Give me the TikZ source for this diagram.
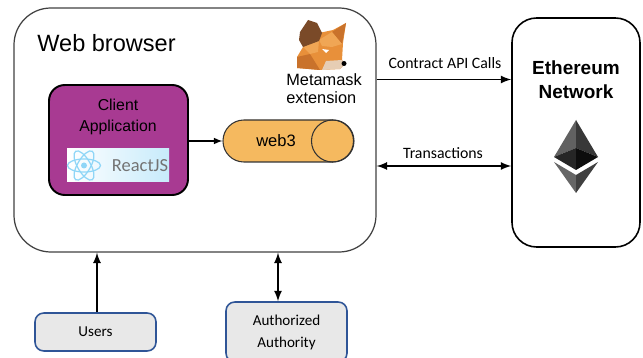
\documentclass[tikz,border=0pt]{standalone}
\usepackage{fontspec}
\setmainfont{Liberation Sans}
\newfontfamily\labelfont{Carlito}
\usetikzlibrary{positioning}
\definecolor{clientpurple}{HTML}{A83A92}
\definecolor{webthreeorange}{HTML}{F5B95F}
\definecolor{boxgrey}{HTML}{E8E8E8}
\definecolor{boxblue}{HTML}{2F5597}
\definecolor{reactblue}{HTML}{8FD6F7}
\definecolor{foxmain}{HTML}{E8903A}
\definecolor{foxdark}{HTML}{C9722B}
\definecolor{foxlight}{HTML}{F0A655}
\definecolor{foxear}{HTML}{7A4A28}
\definecolor{foxsnout}{HTML}{E6CDB4}
\tikzset{
  panel/.style = {draw, rectangle, minimum width = #1*.02cm, inner sep = 0pt},
  smallbox/.style = {draw = boxblue, line width = .9pt, fill = boxgrey, rectangle, rounded corners = 5pt,
    inner sep = 0pt, minimum width = 121*.02cm, font = \labelfont\fontsize{8.6}{12.5}\selectfont, align = center},
  linktext/.style = {font = \labelfont\fontsize{9}{11}\selectfont, inner sep = 0pt},
  link/.style = {line width = 1.05pt, -latex},
  twolink/.style = {line width = 1.05pt, latex-latex}
}
\begin{document}
\begin{tikzpicture}[x = .02cm, y = -.02cm]
\useasboundingbox (0,0) rectangle (643,358);
\clip (0,0) rectangle (643,358);
% containers
\node[panel = 362, draw = black!75, line width = .7pt, minimum height = 244*.02cm, rounded corners = 21pt] (browser) at (195,130) {};
\node[panel = 128, line width = .9pt, minimum height = 229*.02cm, rounded corners = 14pt] (ether) at (576,132.5) {};
\node[panel = 139, line width = 1.1pt, fill = clientpurple, minimum height = 110*.02cm, rounded corners = 9pt] (client) at (118.5,140) {};
\node[panel = 131, draw = black!80, line width = .6pt, fill = webthreeorange, minimum height = 42*.02cm, rounded corners = 11.9pt] (webthree) at (288.5,141) {};
\node[draw = black!80, line width = .6pt, circle, inner sep = 0pt, minimum size = 42*.02cm] (webthreeend) at (332.5,141) {};
\node[smallbox, minimum height = 38*.02cm] (users) at (95.5,332) {Users};
\node[smallbox, minimum height = 60*.02cm] (auth) at (286.5,332) {Authorized\\Authority};
% texts
\node[font = \fontsize{13.4}{15}\selectfont, inner sep = 0pt] (browsertxt) at (106.5,43) {Web browser};
\node[font = \fontsize{9}{12}\selectfont, align = center, inner sep = 0pt] (clienttxt) at (118,117) {Client\\Application};
\node[font = \fontsize{9.4}{11}\selectfont, inner sep = 0pt] (webthreetxt) at (276,141) {web3};
\node[font = \fontsize{9.3}{10.2}\selectfont, align = left, inner sep = 0pt] (metatxt) at (324,89) {Metamask\\extension};
\node[font = \bfseries\fontsize{10.8}{13.5}\selectfont, align = center, inner sep = 0pt] (ethertxt) at (576,80) {Ethereum\\Network};
\node[linktext] (callstxt) at (445,63) {Contract API Calls};
\node[linktext] (transtxt) at (443,153) {Transactions};
% react logo
\node[rectangle, minimum width = 102*.02cm, minimum height = 33*.02cm, inner sep = 0pt, left color = white, right color = reactblue!50] (react) at (118,165.5) {};
\foreach \ang in {0,60,120} {
  \draw[reactblue, line width = .7pt, rotate around = {\ang:(84,165.5)}] (84,165.5) ellipse (16.5 and 6.5);
}
\node[circle, fill = reactblue, inner sep = 0pt, minimum size = 6*.02cm] (reactdot) at (84,165.5) {};
\node[font = \labelfont\fontsize{10.5}{12}\selectfont, text = black!55, inner sep = 0pt] (reacttxt) at (140,166) {ReactJS};
% fox
\fill[foxmain] (319,33) -- (333,30) -- (346,23) -- (343,43) -- (342,60) -- (345,64) -- (340,69) -- (320,70) -- (297,68) -- (297,57) -- (303,47) -- cycle;
\fill[foxdark] (297,57) -- (310,54) -- (320,70) -- (297,68) -- cycle;
\fill[foxdark] (346,23) -- (332,32) -- (342,44) -- cycle;
\fill[foxlight] (319,40) -- (332,32) -- (342,44) -- (332,47) -- (322,46) -- cycle;
\fill[foxlight] (303,47) -- (319,40) -- (318,52) -- (310,54) -- cycle;
\fill[foxear] (308,20) -- (317,23) -- (322,33) -- (319,41) -- (303,47) -- (299,40) -- (300,32) -- cycle;
\fill[foxsnout] (326,61) -- (342,60) -- (345,64) -- (340,69) -- (322,70) -- cycle;
\fill[white] (322,49) -- (329,50) -- (326,53) -- cycle;
\fill[black] (344,63.5) circle (2.5);
% ether logo
\fill[black!62] (576,120) -- (554,157) -- (576,148) -- cycle;
\fill[black!78] (576,120) -- (598,157) -- (576,148) -- cycle;
\fill[black!85] (576,148) -- (554,157) -- (576,170) -- cycle;
\fill[black!95] (576,148) -- (598,157) -- (576,170) -- cycle;
\fill[black!60] (554,162) -- (576,175) -- (576,193) -- cycle;
\fill[black!75] (598,162) -- (576,175) -- (576,193) -- cycle;
% links
\coordinate (callsrow) at (445,79.5);
\coordinate (transrow) at (445,166);
\coordinate (authcol) at (278,280);
\coordinate (usercol) at (97,280);
\draw[line width = .7pt, -latex] (client.east |- webthree.west) -- (webthree.west);
\draw[link] (browser.east |- callsrow) -- (ether.west |- callsrow);
\draw[twolink] (browser.east |- transrow) -- (ether.west |- transrow);
\draw[link] (usercol |- users.north) -- (usercol |- browser.south);
\draw[twolink] (authcol |- browser.south) -- (authcol |- auth.north);
\end{tikzpicture}
\end{document}
